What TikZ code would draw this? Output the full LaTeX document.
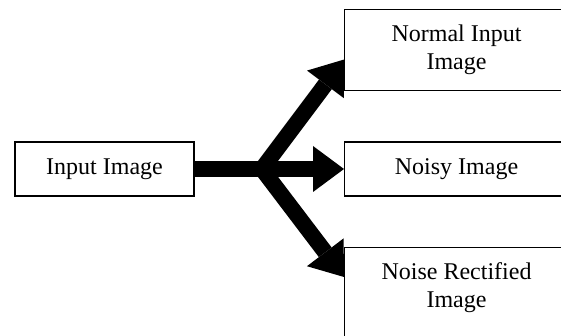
\documentclass[tikz,border=0pt]{standalone}
\usepackage{fontspec}
\setmainfont{Liberation Serif}
\usetikzlibrary{arrows.meta}

\tikzset{
  stage/.style={draw=black, line width=1.1pt, fill=white, inner sep=0pt,
    align=center, font=\fontsize{24}{28}\selectfont},
  caption/.style={inner sep=0pt, align=center, font=\fontsize{24}{28}\selectfont},
  flow/.style={line width=16pt, line cap=butt,
    -{Triangle[length=31pt, width=46pt, line width=0pt]}},
  flowline/.style={line width=16pt, line cap=butt}
}

\begin{document}
\begin{tikzpicture}[x=1pt, y=1pt]
  \useasboundingbox (0,0) rectangle (561,336);
  \clip (0,0) rectangle (561,336);

  % boxes (the right-hand ones run past the page edge)
  \node[stage, minimum width=179pt, minimum height=54pt] (input) at (104.5,167) {Input Image};
  \node[stage, minimum width=224pt, minimum height=81pt, anchor=north west] (normal) at (344,327) {Normal Input\\Image};
  \node[stage, minimum width=224pt, minimum height=54pt, anchor=west] (noisy) at (344,167) {Noisy Image};
  \node[stage, minimum width=224pt, minimum height=120pt, anchor=north west] (rect) at (344,89) {};
  \node[caption, anchor=north] (rectlabel) at ([yshift=-15pt]rect.north) {Noise Rectified\\Image};

  % fork point of the three branches
  \coordinate (fork) at (262,167);

  % arrows
  \draw[flow] (input.east) -- (noisy.west);
  \draw[flow] (fork) -- ([yshift=-9.5pt]normal.west);
  \draw[flow] (fork) -- ([yshift=-30pt]rect.north west);
\end{tikzpicture}
\end{document}
